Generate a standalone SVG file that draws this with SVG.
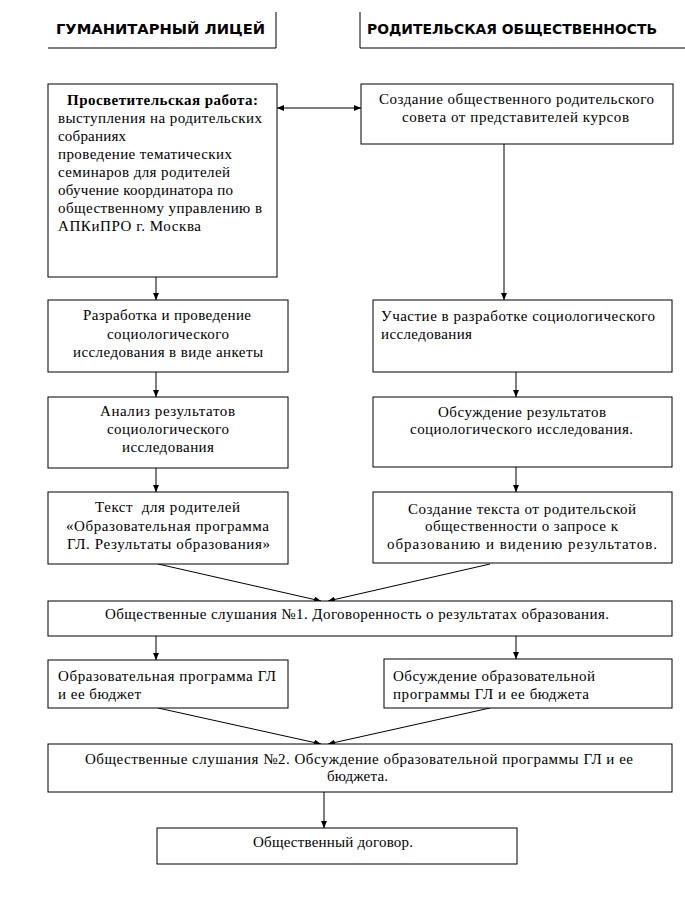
<svg xmlns="http://www.w3.org/2000/svg" width="685" height="901" viewBox="0 0 685 901">
<style>
.box{fill:#fff;stroke:#000;stroke-width:1}
.t{font-family:"Liberation Serif","DejaVu Serif","Times New Roman",serif;font-size:15px;fill:#000}
.h{font-family:"DejaVu Sans",sans-serif;font-size:14px;font-weight:bold;fill:#000}
.ln{fill:none;stroke:#000;stroke-width:1}
.con{fill:none;stroke:#000;stroke-width:1;marker-end:url(#ah)}
</style>
<defs>
<marker id="ah" markerUnits="userSpaceOnUse" markerWidth="7" markerHeight="6" refX="7" refY="3" orient="auto-start-reverse">
<path d="M0,0 L7,3 L0,6 z" fill="#000"/>
</marker>
</defs>
<rect width="685" height="901" fill="#fff"/>
<g id="header-left">
<path class="ln" d="M48,48 H276 V12"/>
<text class="h" x="56" y="34" textLength="209" lengthAdjust="spacingAndGlyphs">ГУМАНИТАРНЫЙ ЛИЦЕЙ</text>
</g>
<g id="header-right">
<path class="ln" d="M360,12 V48 H685"/>
<text class="h" x="367" y="34" textLength="290" lengthAdjust="spacingAndGlyphs">РОДИТЕЛЬСКАЯ ОБЩЕСТВЕННОСТЬ</text>
</g>
<g id="connectors">
<path class="con" d="M277,108 H361" marker-start="url(#ah)"/>
<path class="con" d="M156,277 V300"/>
<path class="con" d="M504,144 V300"/>
<path class="con" d="M156,372 V397"/>
<path class="con" d="M516,372 V397"/>
<path class="con" d="M156,468 V492"/>
<path class="con" d="M516,467 V492"/>
<path class="con" d="M158,564 L321,601"/>
<path class="con" d="M490,564 L328,601"/>
<path class="con" d="M156,636 V660"/>
<path class="con" d="M516,636 V659"/>
<path class="con" d="M158,708 L321,744"/>
<path class="con" d="M490,708 L328,744"/>
<path class="con" d="M324,792 V828"/>
</g>
<g id="n1">
<rect class="box" x="48" y="84" width="229" height="193"/>
<text class="t" x="67" y="105" font-weight="bold" textLength="191" lengthAdjust="spacing">Просветительская работа:</text>
<text class="t" x="58" y="123" textLength="204" lengthAdjust="spacing">выступления на родительских</text>
<text class="t" x="58" y="141" textLength="68" lengthAdjust="spacing">собраниях</text>
<text class="t" x="58" y="159" textLength="174" lengthAdjust="spacing">проведение тематических</text>
<text class="t" x="58" y="177" textLength="172" lengthAdjust="spacing">семинаров для родителей</text>
<text class="t" x="58" y="195" textLength="175" lengthAdjust="spacing">обучение координатора по</text>
<text class="t" x="58" y="213" textLength="204" lengthAdjust="spacing">общественному управлению в</text>
<text class="t" x="58" y="231" textLength="143" lengthAdjust="spacing">АПКиПРО г. Москва</text>
</g>
<g id="n2">
<rect class="box" x="361" y="84" width="312" height="60"/>
<text class="t" x="379" y="104" textLength="275" lengthAdjust="spacing">Создание общественного родительского</text>
<text class="t" x="402" y="122" textLength="227" lengthAdjust="spacing">совета от представителей курсов</text>
</g>
<g id="n3">
<rect class="box" x="48" y="300" width="240" height="72"/>
<text class="t" x="83" y="320" textLength="168" lengthAdjust="spacing">Разработка и проведение</text>
<text class="t" x="107" y="339" textLength="122" lengthAdjust="spacing">социологического</text>
<text class="t" x="73" y="357" textLength="190" lengthAdjust="spacing">исследования в виде анкеты</text>
</g>
<g id="n4">
<rect class="box" x="373" y="300" width="299" height="72"/>
<text class="t" x="381" y="321" textLength="274" lengthAdjust="spacing">Участие в разработке социологического</text>
<text class="t" x="381" y="339" textLength="91" lengthAdjust="spacing">исследования</text>
</g>
<g id="n5">
<rect class="box" x="48" y="397" width="240" height="71"/>
<text class="t" x="100" y="416" textLength="135" lengthAdjust="spacing">Анализ результатов</text>
<text class="t" x="107" y="434" textLength="122" lengthAdjust="spacing">социологического</text>
<text class="t" x="122" y="452" textLength="92" lengthAdjust="spacing">исследования</text>
</g>
<g id="n6">
<rect class="box" x="373" y="397" width="299" height="70"/>
<text class="t" x="438" y="417" textLength="168" lengthAdjust="spacing">Обсуждение результатов</text>
<text class="t" x="410" y="434" textLength="223" lengthAdjust="spacing">социологического исследования.</text>
</g>
<g id="n7">
<rect class="box" x="48" y="492" width="240" height="72"/>
<text class="t" x="95" y="512" textLength="145" lengthAdjust="spacing" xml:space="preserve">Текст  для родителей</text>
<text class="t" x="66" y="531" textLength="203" lengthAdjust="spacing">«Образовательная программа</text>
<text class="t" x="67" y="549" textLength="203" lengthAdjust="spacing">ГЛ. Результаты образования»</text>
</g>
<g id="n8">
<rect class="box" x="373" y="492" width="299" height="71"/>
<text class="t" x="408" y="514" textLength="228" lengthAdjust="spacing">Создание текста от родительской</text>
<text class="t" x="425" y="531" textLength="193" lengthAdjust="spacing">общественности о запросе к</text>
<text class="t" x="387" y="549" textLength="270" lengthAdjust="spacing">образованию и видению результатов.</text>
</g>
<g id="n9">
<rect class="box" x="48" y="601" width="624" height="35"/>
<text class="t" x="105" y="619" textLength="504" lengthAdjust="spacing">Общественные слушания №1. Договоренность о результатах образования.</text>
</g>
<g id="n10">
<rect class="box" x="48" y="660" width="240" height="48"/>
<text class="t" x="58" y="681" textLength="218" lengthAdjust="spacing">Образовательная программа ГЛ</text>
<text class="t" x="58" y="699" textLength="83" lengthAdjust="spacing">и ее бюджет</text>
</g>
<g id="n11">
<rect class="box" x="384" y="659" width="288" height="49"/>
<text class="t" x="393" y="681" textLength="202" lengthAdjust="spacing">Обсуждение образовательной</text>
<text class="t" x="393" y="699" textLength="196" lengthAdjust="spacing">программы ГЛ и ее бюджета</text>
</g>
<g id="n12">
<rect class="box" x="48" y="744" width="624" height="48"/>
<text class="t" x="85" y="764" textLength="548" lengthAdjust="spacing">Общественные слушания №2. Обсуждение образовательной программы ГЛ и ее</text>
<text class="t" x="327" y="781" textLength="61" lengthAdjust="spacing">бюджета.</text>
</g>
<g id="n13">
<rect class="box" x="157" y="828" width="360" height="36"/>
<text class="t" x="253" y="847" textLength="160" lengthAdjust="spacing">Общественный договор.</text>
</g>
</svg>
